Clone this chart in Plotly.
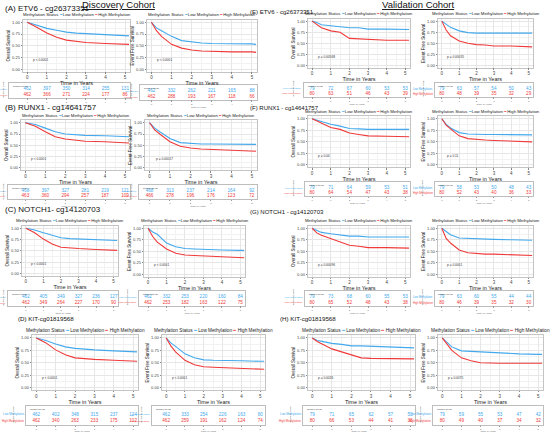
import plotly.graph_objects as go

W, H = 550, 433
BLUE = "#43a9ec"
RED = "#f03a3a"

T_YEARS = [0, 0.25, 0.5, 1, 1.5, 2, 2.5, 3, 4, 5, 5.2]
RISK_YEARS = [0, 1, 2, 3, 4, 5]

# ---- Discovery cohort ----
A_OS_LOW = [1.00, 0.97, 0.93, 0.87, 0.83, 0.79, 0.77, 0.76, 0.74, 0.72, 0.71]
A_OS_HIGH = [1.00, 0.95, 0.89, 0.77, 0.68, 0.62, 0.59, 0.57, 0.55, 0.53, 0.53]
A_EFS_LOW = [1.00, 0.88, 0.82, 0.70, 0.61, 0.58, 0.56, 0.55, 0.55, 0.54, 0.53]
A_EFS_HIGH = [1.00, 0.82, 0.70, 0.53, 0.45, 0.41, 0.39, 0.38, 0.37, 0.37, 0.36]
B_OS_LOW = [1.00, 0.98, 0.96, 0.88, 0.80, 0.75, 0.73, 0.72, 0.71, 0.69, 0.69]
B_OS_HIGH = [1.00, 0.96, 0.92, 0.80, 0.69, 0.64, 0.61, 0.59, 0.58, 0.56, 0.55]
B_EFS_LOW = [1.00, 0.88, 0.80, 0.65, 0.56, 0.54, 0.53, 0.53, 0.52, 0.52, 0.52]
B_EFS_HIGH = [1.00, 0.84, 0.75, 0.58, 0.48, 0.44, 0.42, 0.41, 0.40, 0.38, 0.37]
C_OS_LOW = [1.00, 0.98, 0.96, 0.90, 0.84, 0.79, 0.77, 0.76, 0.75, 0.73, 0.73]
C_OS_HIGH = [1.00, 0.95, 0.90, 0.76, 0.65, 0.58, 0.56, 0.55, 0.53, 0.51, 0.51]
C_EFS_LOW = [1.00, 0.92, 0.87, 0.68, 0.60, 0.56, 0.55, 0.54, 0.53, 0.52, 0.52]
C_EFS_HIGH = [1.00, 0.82, 0.70, 0.55, 0.46, 0.42, 0.41, 0.40, 0.38, 0.36, 0.36]
D_OS_LOW = [1.00, 0.98, 0.95, 0.88, 0.82, 0.79, 0.77, 0.76, 0.74, 0.72, 0.72]
D_OS_HIGH = [1.00, 0.95, 0.90, 0.76, 0.66, 0.60, 0.58, 0.57, 0.55, 0.53, 0.53]
D_EFS_LOW = [1.00, 0.90, 0.83, 0.68, 0.60, 0.56, 0.55, 0.55, 0.54, 0.53, 0.53]
D_EFS_HIGH = [1.00, 0.84, 0.72, 0.55, 0.46, 0.42, 0.41, 0.40, 0.39, 0.37, 0.37]

# ---- Validation cohort ----
E_OS_LOW = [1.00, 0.97, 0.92, 0.90, 0.87, 0.85, 0.85, 0.82, 0.82, 0.81, 0.81]
E_OS_HIGH = [1.00, 0.92, 0.85, 0.78, 0.75, 0.61, 0.60, 0.59, 0.57, 0.57, 0.57]
E_EFS_LOW = [1.00, 0.92, 0.86, 0.78, 0.74, 0.73, 0.73, 0.73, 0.73, 0.73, 0.73]
E_EFS_HIGH = [1.00, 0.80, 0.67, 0.55, 0.50, 0.47, 0.46, 0.44, 0.44, 0.42, 0.42]
F_OS_LOW = [1.00, 0.97, 0.93, 0.88, 0.84, 0.79, 0.78, 0.77, 0.77, 0.77, 0.77]
F_OS_HIGH = [1.00, 0.95, 0.90, 0.81, 0.77, 0.69, 0.66, 0.63, 0.62, 0.61, 0.61]
F_EFS_LOW = [1.00, 0.88, 0.80, 0.70, 0.67, 0.66, 0.66, 0.66, 0.65, 0.65, 0.65]
F_EFS_HIGH = [1.00, 0.86, 0.78, 0.63, 0.57, 0.55, 0.54, 0.53, 0.52, 0.50, 0.50]
G_OS_LOW = [1.00, 0.95, 0.91, 0.88, 0.86, 0.83, 0.83, 0.81, 0.81, 0.81, 0.81]
G_OS_HIGH = [1.00, 0.90, 0.85, 0.78, 0.71, 0.63, 0.61, 0.58, 0.58, 0.57, 0.57]
G_EFS_LOW = [1.00, 0.93, 0.86, 0.79, 0.78, 0.77, 0.76, 0.76, 0.75, 0.74, 0.74]
G_EFS_HIGH = [1.00, 0.78, 0.68, 0.53, 0.47, 0.45, 0.44, 0.44, 0.42, 0.41, 0.41]
H_OS_LOW = [1.00, 0.95, 0.93, 0.89, 0.87, 0.84, 0.84, 0.83, 0.81, 0.80, 0.80]
H_OS_HIGH = [1.00, 0.93, 0.88, 0.78, 0.72, 0.66, 0.60, 0.59, 0.59, 0.58, 0.58]
H_EFS_LOW = [1.00, 0.90, 0.82, 0.74, 0.73, 0.71, 0.71, 0.70, 0.68, 0.67, 0.67]
H_EFS_HIGH = [1.00, 0.88, 0.75, 0.60, 0.54, 0.50, 0.49, 0.49, 0.49, 0.49, 0.49]

# ---- numbers at risk ----
A_OS_RISK_LOW = [462, 397, 350, 314, 255, 131]
A_OS_RISK_HIGH = [462, 366, 271, 224, 177, 86]
A_EFS_RISK_LOW = [462, 332, 262, 221, 165, 88]
A_EFS_RISK_HIGH = [462, 288, 193, 167, 118, 66]
B_OS_RISK_LOW = [468, 397, 327, 281, 219, 121]
B_OS_RISK_HIGH = [463, 360, 294, 257, 187, 109]
B_EFS_RISK_LOW = [468, 313, 237, 214, 164, 92]
B_EFS_RISK_HIGH = [466, 278, 196, 176, 123, 72]
C_OS_RISK_LOW = [462, 405, 349, 327, 236, 127]
C_OS_RISK_HIGH = [462, 349, 264, 227, 170, 90]
C_EFS_RISK_LOW = [462, 332, 253, 220, 160, 84]
C_EFS_RISK_HIGH = [462, 253, 182, 163, 122, 75]
D_OS_RISK_LOW = [462, 402, 348, 315, 237, 124]
D_OS_RISK_HIGH = [462, 340, 263, 233, 175, 102]
D_EFS_RISK_LOW = [462, 333, 254, 226, 163, 80]
D_EFS_RISK_HIGH = [462, 259, 191, 162, 124, 74]
E_OS_RISK_LOW = [79, 72, 67, 60, 53, 53]
E_OS_RISK_HIGH = [80, 63, 51, 46, 43, 39]
E_EFS_RISK_LOW = [79, 63, 57, 54, 50, 43]
E_EFS_RISK_HIGH = [80, 48, 39, 35, 32, 29]
F_OS_RISK_LOW = [79, 71, 64, 59, 53, 51]
F_OS_RISK_HIGH = [80, 64, 54, 47, 43, 38]
F_EFS_RISK_LOW = [79, 58, 53, 50, 48, 43]
F_EFS_RISK_HIGH = [80, 52, 43, 40, 36, 33]
G_OS_RISK_LOW = [79, 73, 68, 60, 55, 53]
G_OS_RISK_HIGH = [80, 65, 52, 48, 43, 38]
G_EFS_RISK_LOW = [79, 63, 60, 55, 44, 44]
G_EFS_RISK_HIGH = [80, 46, 39, 35, 32, 30]
H_OS_RISK_LOW = [79, 71, 65, 62, 57, 53]
H_OS_RISK_HIGH = [80, 66, 53, 44, 41, 38]
H_EFS_RISK_LOW = [79, 59, 55, 53, 47, 42]
H_EFS_RISK_HIGH = [80, 49, 40, 37, 34, 32]

P_TEXT = {
    "A_OS": "p < 0.0001", "A_EFS": "p < 0.0001",
    "B_OS": "p < 0.0001", "B_EFS": "p = 0.00017",
    "C_OS": "p < 0.0001", "C_EFS": "p < 0.0001",
    "D_OS": "p < 0.0001", "D_EFS": "p < 0.0001",
    "E_OS": "p = 0.00568", "E_EFS": "p = 0.00035",
    "F_OS": "p = 0.04", "F_EFS": "p = 0.11",
    "G_OS": "p = 0.00096", "G_EFS": "p = 0.0001",
    "H_OS": "p = 0.0026", "H_EFS": "p = 0.0075",
}

# panel: name, y title, curves, risk rows,
# plot box px (x0,x1,y0,y1), table box px (x0,y0,y1), width of strata labels px, legend font
panels = [
    ("A_OS", "Overall Survival", A_OS_LOW, A_OS_HIGH, A_OS_RISK_LOW, A_OS_RISK_HIGH, (23, 130, 20, 72), (9, 83, 98), 5, 4.3),
    ("A_EFS", "Event Free Survival", A_EFS_LOW, A_EFS_HIGH, A_EFS_RISK_LOW, A_EFS_RISK_HIGH, (147, 257, 20, 72), (140, 85, 100), 7.5, 4.3),
    ("E_OS", "Overall Survival", E_OS_LOW, E_OS_HIGH, E_OS_RISK_LOW, E_OS_RISK_HIGH, (308, 410, 19, 68), (304, 83, 97), 10, 4.3),
    ("E_EFS", "Event Free Survival", E_EFS_LOW, E_EFS_HIGH, E_EFS_RISK_LOW, E_EFS_RISK_HIGH, (438, 533, 19, 68), (435, 83, 97), 11, 4.3),
    ("B_OS", "Overall Survival", B_OS_LOW, B_OS_HIGH, B_OS_RISK_LOW, B_OS_RISK_HIGH, (21, 130, 121, 171), (8, 186, 200), 4.5, 4.3),
    ("B_EFS", "Event Free Survival", B_EFS_LOW, B_EFS_HIGH, B_EFS_RISK_LOW, B_EFS_RISK_HIGH, (145, 257, 121, 171), (139, 186, 200), 6.5, 4.3),
    ("F_OS", "Overall Survival", F_OS_LOW, F_OS_HIGH, F_OS_RISK_LOW, F_OS_RISK_HIGH, (308, 410, 117, 168), (305, 183, 197), 10, 4.3),
    ("F_EFS", "Event Free Survival", F_EFS_LOW, F_EFS_HIGH, F_EFS_RISK_LOW, F_EFS_RISK_HIGH, (438, 533, 117, 168), (435, 183, 197), 11, 4.3),
    ("C_OS", "Overall Survival", C_OS_LOW, C_OS_HIGH, C_OS_RISK_LOW, C_OS_RISK_HIGH, (22, 118, 227, 277), (8, 292, 307), 4.5, 4.3),
    ("C_EFS", "Event Free Survival", C_EFS_LOW, C_EFS_HIGH, C_EFS_RISK_LOW, C_EFS_RISK_HIGH, (144, 245, 227, 278), (139, 292, 307), 10, 4.3),
    ("G_OS", "Overall Survival", G_OS_LOW, G_OS_HIGH, G_OS_RISK_LOW, G_OS_RISK_HIGH, (308, 410, 227, 278), (305, 292, 307), 10, 4.3),
    ("G_EFS", "Event Free Survival", G_EFS_LOW, G_EFS_HIGH, G_EFS_RISK_LOW, G_EFS_RISK_HIGH, (438, 533, 227, 278), (435, 292, 307), 11, 4.3),
    ("D_OS", "Overall Survival", D_OS_LOW, D_OS_HIGH, D_OS_RISK_LOW, D_OS_RISK_HIGH, (32, 138, 337, 392), (26, 408, 427), 12, 4.7),
    ("D_EFS", "Event Free Survival", D_EFS_LOW, D_EFS_HIGH, D_EFS_RISK_LOW, D_EFS_RISK_HIGH, (162, 265, 337, 392), (152, 408, 427), 10, 4.7),
    ("H_OS", "Overall Survival", H_OS_LOW, H_OS_HIGH, H_OS_RISK_LOW, H_OS_RISK_HIGH, (308, 415, 337, 392), (303, 408, 427), 12, 4.7),
    ("H_EFS", "Event Free Survival", H_EFS_LOW, H_EFS_HIGH, H_EFS_RISK_LOW, H_EFS_RISK_HIGH, (438, 543, 337, 392), (433, 408, 427), 12, 4.7),
]

FONT = "Liberation Sans"
XR = [-0.22, 5.25]


def fx(px):
    return px / W


def fy(py):
    return 1 - py / H


def ax_names(n):
    return ("xaxis" if n == 1 else f"xaxis{n}", "yaxis" if n == 1 else f"yaxis{n}",
            "x" if n == 1 else f"x{n}", "y" if n == 1 else f"y{n}")


def note(x, y, text, size, color="#222", xanchor="center", **kw):
    # paper-referenced annotation, given in pixels from the top-left corner
    return dict(xref="paper", yref="paper", x=fx(x), y=fy(y), text=text, showarrow=False,
                xanchor=xanchor, yanchor=kw.pop("yanchor", "middle"),
                font=dict(size=size, color=color), **kw)


fig = go.Figure()
layout = {}
ann = []

for i, (name, ytitle, low, high, rlow, rhigh, pbox, tbox, lab_w, leg_size) in enumerate(panels):
    px0, px1, py0, py1 = pbox
    tx0, ty0, ty1 = tbox
    kp = 2 * i + 1
    kt = 2 * i + 2
    xa, ya, xr, yr = ax_names(kp)
    txa, tya, txr, tyr = ax_names(kt)

    # survival plot
    layout[xa] = dict(domain=[fx(px0), fx(px1)], anchor=yr, range=XR,
                      tickvals=RISK_YEARS, tickfont=dict(size=4.5, color="#444"),
                      showgrid=True, gridcolor="#e6e6e6", gridwidth=0.5,
                      minor=dict(tickvals=[0.5, 1.5, 2.5, 3.5, 4.5], showgrid=True, gridcolor="#f2f2f2", gridwidth=0.4),
                      showline=True, mirror=True, linecolor="#c4c4c4", linewidth=0.6,
                      ticks="outside", ticklen=1.5, tickcolor="#888", zeroline=False,
                      title=dict(text="Time in Years", font=dict(size=5.5, color="#222"), standoff=1))
    layout[ya] = dict(domain=[fy(py1), fy(py0)], anchor=xr, range=[-0.05, 1.05],
                      tickvals=[0, 0.25, 0.5, 0.75, 1], ticktext=["0.00", "0.25", "0.50", "0.75", "1.00"],
                      tickfont=dict(size=4, color="#444"),
                      showgrid=True, gridcolor="#e6e6e6", gridwidth=0.5,
                      minor=dict(tickvals=[0.125, 0.375, 0.625, 0.875], showgrid=True, gridcolor="#f2f2f2", gridwidth=0.4),
                      showline=True, mirror=True, linecolor="#c4c4c4", linewidth=0.6,
                      ticks="outside", ticklen=1.5, tickcolor="#888", zeroline=False,
                      title=dict(text=ytitle, font=dict(size=4.5, color="#222"), standoff=1))
    fig.add_trace(go.Scatter(x=T_YEARS, y=low, mode="lines", line=dict(color=BLUE, width=1.1),
                             xaxis=xr, yaxis=yr, showlegend=False))
    fig.add_trace(go.Scatter(x=T_YEARS, y=high, mode="lines", line=dict(color=RED, width=1.1),
                             xaxis=xr, yaxis=yr, showlegend=False))
    ann.append(dict(xref=xr, yref=yr, x=0.2, y=0.2, text=P_TEXT[name], showarrow=False,
                    xanchor="left", yanchor="middle", font=dict(size=3.2, color="#333")))
    # legend line above the plot
    ann.append(note((px0 + px1) / 2, py0 - 5,
                    ("Methylation Status <span style='color:%s'>━</span> Low Methylation "
                     "<span style='color:%s'>━</span> High Methylation") % (BLUE, RED),
                    leg_size))

    # risk table, numbers aligned with the plot's time axis
    ppu = (px1 - px0) / (XR[1] - XR[0])
    layout[txa] = dict(domain=[fx(tx0), fx(px1)], anchor=tyr,
                       range=[XR[0] - (px0 - tx0) / ppu, XR[1]],
                       tickvals=RISK_YEARS, tickfont=dict(size=2.5, color="#666"),
                       showgrid=False, showline=True, mirror=True, linecolor="#bdbdbd", linewidth=0.6,
                       ticks="outside", ticklen=1.2, tickcolor="#999", zeroline=False,
                       title=dict(text="Time in Years", font=dict(size=2.5, color="#666"), standoff=0))
    layout[tya] = dict(domain=[fy(ty1), fy(ty0)], anchor=txr, range=[0, 1],
                       showticklabels=False, showgrid=False, showline=True, mirror=True,
                       linecolor="#bdbdbd", linewidth=0.6, zeroline=False)
    fig.add_trace(go.Scatter(x=RISK_YEARS, y=[0.56] * 6, mode="text", text=[str(v) for v in rlow],
                             textfont=dict(size=4.6, color=BLUE, family=FONT),
                             xaxis=txr, yaxis=tyr, showlegend=False))
    fig.add_trace(go.Scatter(x=RISK_YEARS, y=[0.2] * 6, mode="text", text=[str(v) for v in rhigh],
                             textfont=dict(size=4.6, color=RED, family=FONT),
                             xaxis=txr, yaxis=tyr, showlegend=False))
    ann.append(note(tx0 + 1.5, ty0 + 0.2, "Number at risk", 2.3, "#444", xanchor="left", yanchor="top"))
    # strata labels and rotated title to the left of the table
    row_h = ty1 - ty0
    lab_size = 2.2 * lab_w / 9
    ann.append(note(tx0 - 0.5, ty1 - 0.56 * row_h, "Low Methylation", lab_size, BLUE, xanchor="right"))
    ann.append(note(tx0 - 0.5, ty1 - 0.2 * row_h, "High Methylation", lab_size, RED, xanchor="right"))
    ann.append(note(max(tx0 - lab_w - 1.5, 3), (ty0 + ty1) / 2, "Methylation Status", 2.0, "#444",
                    textangle=-90))

# panel and cohort titles
titles = [
    ("<u>Discovery Cohort</u>", 118, 5, "center", 9.5),
    ("<u>Validation Cohort</u>", 418, 5, "center", 9.5),
    ("(A) ETV6 - cg26373351", 3, 9, "left", 8),
    ("(E) ETV6 - cg26373351", 248, 12, "left", 6),
    ("(B) RUNX1 - cg14641757", 3, 108, "left", 8),
    ("(F) RUNX1 - cg14641757", 248, 108, "left", 6),
    ("(C) NOTCH1- cg14120703", 3, 210, "left", 8),
    ("(G) NOTCH1 - cg14120703", 248, 213, "left", 6),
    ("(D) KIT-cg01819568", 16, 320, "left", 6.2),
    ("(H) KIT-cg01819568", 278, 320, "left", 6.2),
]
for text, x, y, anchor, size in titles:
    ann.append(note(x, y, text, size, "#111", xanchor=anchor))

fig.update_layout(**layout)
fig.update_layout(width=W, height=H, margin=dict(l=0, r=0, t=0, b=0),
                  paper_bgcolor="white", plot_bgcolor="white",
                  font=dict(family=FONT, color="#222"),
                  annotations=ann, showlegend=False)

# the page body has a default 8px margin; drop it so the figure fills the window
fig.write_html("out.html", config={"displayModeBar": False},
               post_script="document.body.style.margin='0px';")
